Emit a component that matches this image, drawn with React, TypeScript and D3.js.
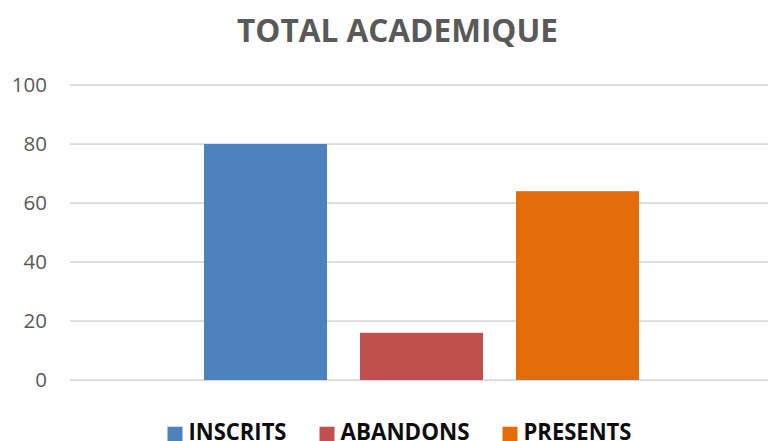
import React from "react";
import * as d3 from "d3";

const categories = ["INSCRITS", "ABANDONS", "PRESENTS"];
const values = [80, 16, 64];
const colors = ["#4F81BD", "#C0504D", "#E46C0A"];
const yTicks = [0, 20, 40, 60, 80, 100];
const title = "TOTAL ACADEMIQUE";

const W = 768;
const H = 441;
const FONT = "'Open Sans', 'Liberation Sans', sans-serif";

export default function App() {
  const x = d3
    .scaleBand<string>()
    .domain(categories)
    .range([70, 773])
    .paddingInner(0.2115)
    .paddingOuter(0.859);
  const y = d3.scaleLinear().domain([0, 100]).range([380, 85]);

  // legend layout
  const legendTextW = [98, 129, 108];
  const sq = 15;
  const txtGap = 6;
  const itemGap = 33;
  const itemW = legendTextW.map((w) => sq + txtGap + w);
  const totalW = d3.sum(itemW) + itemGap * (categories.length - 1);
  const lx0 = 399.5 - totalW / 2;
  const lxs: number[] = [];
  let acc = lx0;
  itemW.forEach((w) => {
    lxs.push(acc);
    acc += w + itemGap;
  });

  return (
    <svg
      width={W}
      height={H}
      style={{ position: "absolute", left: 0, top: 0, background: "#fff" }}
    >
      <rect x={0} y={0} width={W} height={H} fill="#fff" />
      <text
        x={397.5}
        y={41.7}
        textAnchor="middle"
        fontFamily={FONT}
        fontWeight="bold"
        fontSize={33}
        fill="#595959"
        textLength={321}
        lengthAdjust="spacingAndGlyphs"
      >
        {title}
      </text>
      {yTicks.map((t) => (
        <g key={t}>
          <line
            x1={70}
            x2={W}
            y1={y(t)}
            y2={y(t)}
            stroke="#d9d9d9"
            strokeWidth={1.75}
          />
          <text
            x={47}
            y={y(t)}
            dy="0.36em"
            textAnchor="end"
            fontFamily={FONT}
            fontSize={20.5}
            fill="#595959"
          >
            {t}
          </text>
        </g>
      ))}
      {categories.map((c, i) => (
        <rect
          key={c}
          x={x(c)}
          y={y(values[i])}
          width={x.bandwidth()}
          height={y(0) - y(values[i])}
          fill={colors[i]}
        />
      ))}
      {categories.map((c, i) => (
        <g key={c} transform={`translate(${lxs[i]},0)`}>
          <rect x={0} y={426.7} width={sq} height={sq} fill={colors[i]} />
          <text
            x={sq + txtGap}
            y={440.3}
            fontFamily={FONT}
            fontWeight="bold"
            fontSize={23.5}
            fill="#0d0d0d"
            textLength={legendTextW[i]}
            lengthAdjust="spacingAndGlyphs"
          >
            {c}
          </text>
        </g>
      ))}
    </svg>
  );
}
